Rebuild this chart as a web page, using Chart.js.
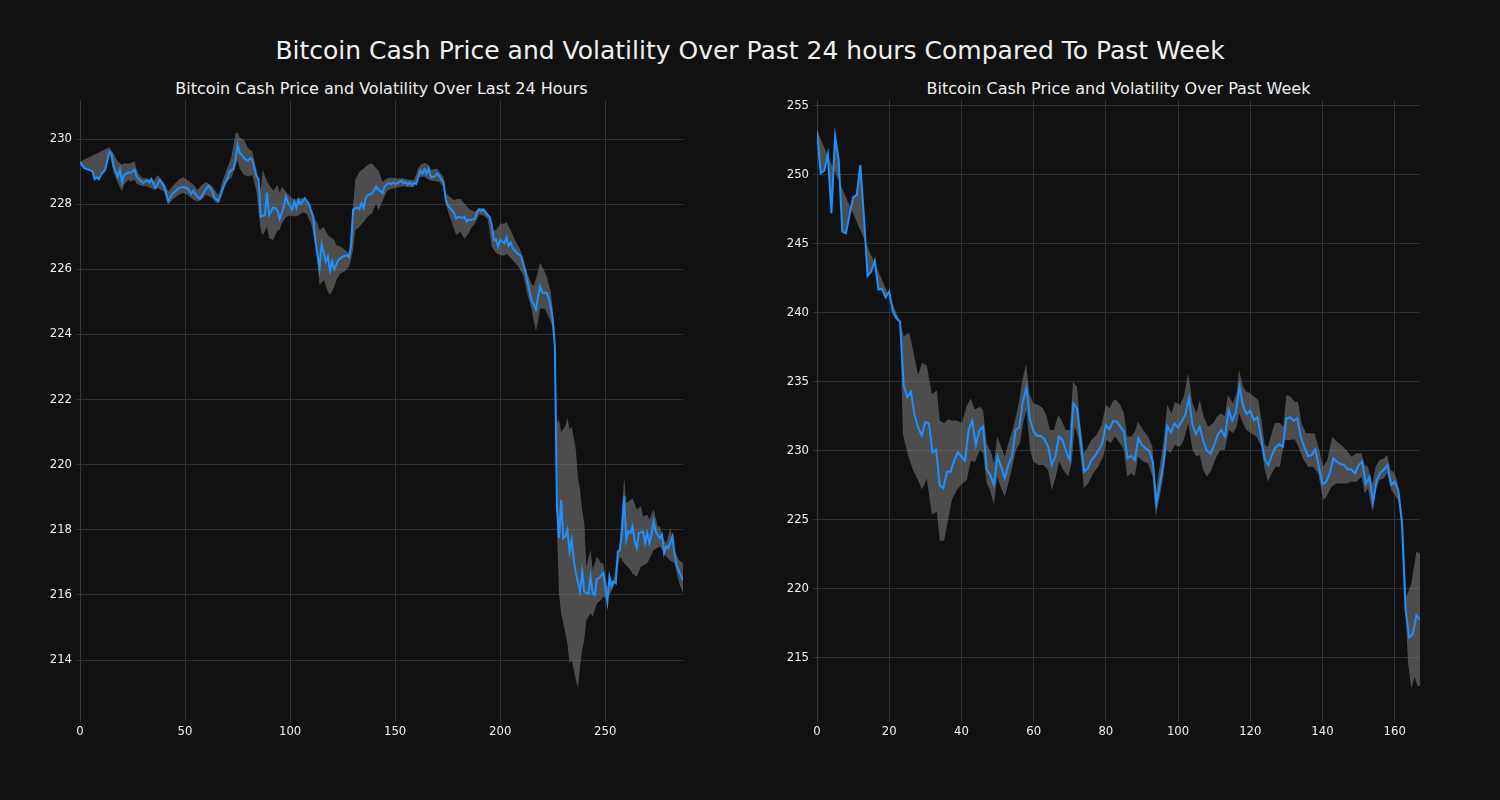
<!DOCTYPE html>
<html>
<head>
<meta charset="utf-8">
<script src="https://cdn.jsdelivr.net/npm/chart.js@4.4.1/dist/chart.umd.min.js"></script>
<style>
html,body{margin:0;padding:0;background:#111111;}
body{width:1500px;height:800px;position:relative;overflow:hidden;font-family:"DejaVu Sans",sans-serif;color:#f0f0f0;}
.t{position:absolute;white-space:nowrap;transform:translate(-50%,-50%);line-height:1;}
#main{left:750px;top:50px;font-size:25px;}
#tl{left:381.5px;top:89px;font-size:16px;}
#tr{left:1118.5px;top:89px;font-size:16px;}
.wrap{position:absolute;top:0;width:750px;height:800px;}
</style>
</head>
<body>
<div class="t" id="main">Bitcoin Cash Price and Volatility Over Past 24 hours Compared To Past Week</div>
<div class="t" id="tl">Bitcoin Cash Price and Volatility Over Last 24 Hours</div>
<div class="t" id="tr">Bitcoin Cash Price and Volatility Over Past Week</div>
<div class="wrap" style="left:0"><canvas id="cl" width="750" height="800"></canvas></div>
<div class="wrap" style="left:750px"><canvas id="cr" width="750" height="800"></canvas></div>
<script>
// ---------- Left: last 24 hours (5-minute steps) ----------
const leftPriceX = [0,2,5,6,7,8,9,10,12,14,15,16,18,19,20,21,23,24,26,27,28,30,32,33,34,36,38,40,42,44,47,49,51,53,54,55,57,59,61,63,64,66,67,69,70,71,72,73,74,75,76,77,78,80,81,82,84,85,86,88,89,90,92,93,94,95,97,98,99,101,102,103,104,105,107,109,110,111,112,114,115,117,118,119,120,121,123,124,125,127,128,129,130,132,133,134,135,136,137,139,141,142,143,144,145,147,148,149,150,151,153,154,155,156,157,158,159,160,162,163,164,165,166,167,169,170,171,172,173,174,175,177,178,179,180,182,183,184,185,186,188,189,190,191,192,193,195,196,197,198,199,200,202,203,204,205,206,208,210,211,212,213,215,216,217,218,219,220,222,223,224,225,226,227,228,229,230,231,232,233,234,235,236,238,239,240,242,243,244,245,246,247,249,250,251,252,253,254,255,256,257,258,259,260,261,262,263,264,265,266,268,269,270,271,272,273,274,276,277,278,279,280,282,283,284,285,286,287];
const leftPrice = [229.29,229.11,229.04,229.00,228.77,228.83,228.77,228.90,229.06,229.60,229.55,229.16,228.85,229.06,228.67,228.90,228.98,228.96,229.06,228.85,228.77,228.65,228.73,228.67,228.77,228.50,228.75,228.55,228.10,228.32,228.50,228.53,228.50,228.32,228.42,228.30,228.16,228.36,228.57,228.39,228.19,228.10,228.29,228.65,228.75,228.98,229.04,229.08,229.36,229.82,229.57,229.52,229.42,229.33,229.42,229.36,228.85,228.77,227.62,227.67,228.36,227.67,227.90,227.88,227.80,227.54,227.93,228.24,228.05,227.83,228.08,227.88,228.13,228.00,228.18,228.00,227.80,227.62,226.90,226.03,226.78,226.24,226.39,225.96,226.24,226.00,226.29,226.34,226.39,226.44,226.37,226.70,227.83,227.90,227.85,228.03,227.88,228.20,228.28,228.33,228.54,228.44,228.41,228.33,228.55,228.66,228.62,228.66,228.62,228.64,228.72,228.64,228.68,228.60,228.68,228.59,228.66,228.62,229.03,228.94,229.07,228.94,229.09,228.82,228.86,228.94,228.86,228.76,228.69,228.17,227.97,227.82,227.73,227.56,227.61,227.58,227.61,227.46,227.53,227.51,227.56,227.76,227.84,227.79,227.84,227.76,227.60,227.34,226.90,226.92,226.70,226.90,226.80,226.98,226.72,226.82,226.64,226.50,226.40,226.13,225.93,225.60,225.03,224.92,224.76,225.15,225.48,225.29,225.28,225.15,224.85,224.44,223.64,218.70,217.74,218.92,217.74,217.79,218.00,217.33,217.69,217.08,216.67,216.10,216.72,216.10,216.03,216.56,216.05,216.00,216.48,216.51,216.67,216.26,215.79,216.56,216.26,216.41,216.36,217.33,217.38,218.00,219.03,217.69,217.95,217.90,218.10,217.64,217.44,217.90,217.95,217.59,217.90,217.59,217.85,218.26,217.95,217.74,217.85,217.28,217.49,217.44,217.79,217.23,216.90,216.75,216.60,216.45];
const leftUpperX = [0,14,16,18,20,21,23,24,26,27,28,30,32,35,37,40,42,44,47,49,51,54,56,58,60,63,65,66,68,70,72,74,75,76,78,80,82,84,86,87,89,90,92,94,95,96,98,100,102,104,106,108,110,112,113,114,116,118,119,121,122,124,126,128,129,130,131,133,135,137,139,141,142,144,146,148,151,154,156,159,161,162,164,166,167,170,171,173,174,176,178,179,181,183,185,186,188,190,192,194,196,198,200,202,203,205,207,209,211,213,215,216,217,218,219,221,222,224,225,226,227,228,229,231,232,233,234,236,237,238,239,240,241,243,244,246,248,249,251,252,254,256,257,259,260,262,263,265,267,268,270,271,273,275,276,278,279,281,283,285,287];
const leftUpper = [229.30,229.75,229.55,229.31,229.21,229.26,229.24,229.26,229.31,229.06,228.92,228.80,228.80,228.70,228.90,228.65,228.39,228.55,228.75,228.83,228.75,228.60,228.44,228.60,228.68,228.55,228.35,228.29,228.75,229.10,229.45,230.18,230.20,230.05,229.98,229.72,229.62,229.06,228.44,229.06,228.70,228.60,228.42,228.60,228.34,228.54,228.39,228.24,228.13,228.18,228.18,228.08,227.85,227.52,227.42,227.20,227.31,227.05,227.00,226.90,226.75,226.70,226.60,226.50,227.20,227.98,228.75,229.00,229.10,229.21,229.26,229.10,229.05,228.69,228.79,228.82,228.79,228.79,228.76,228.74,229.10,229.20,229.27,229.20,229.05,229.10,229.00,228.84,228.33,228.23,228.12,228.15,228.17,228.02,227.87,227.82,227.77,227.90,227.87,227.72,227.20,227.20,227.40,227.40,227.45,227.20,226.90,226.68,226.35,225.85,225.54,225.50,225.70,225.95,226.20,225.95,225.80,225.33,224.77,224.05,221.30,221.38,221.00,221.18,221.44,221.08,221.18,220.46,219.60,219.23,218.60,218.20,216.87,217.38,216.77,217.18,216.97,216.97,216.26,216.46,216.46,217.28,217.69,219.59,218.82,218.92,218.97,218.62,218.72,218.41,218.46,218.31,218.62,218.10,218.10,217.69,217.59,218.05,217.38,217.08,216.97];
const leftLowerX = [14,16,18,20,21,23,24,26,27,28,30,32,35,37,40,42,44,47,49,51,54,56,58,60,63,65,66,68,70,72,74,75,76,78,80,82,84,86,87,89,90,92,94,95,96,98,100,102,104,106,108,110,112,113,114,116,118,119,121,122,124,126,128,129,130,131,133,135,137,139,141,142,144,146,148,151,154,156,159,161,162,164,166,167,170,171,173,174,176,178,179,181,183,185,186,188,190,192,194,196,198,200,202,203,205,207,209,211,213,215,216,217,218,219,221,222,224,225,226,227,228,229,231,232,233,234,236,237,238,239,240,241,243,244,246,248,249,251,252,254,256,257,259,260,262,263,265,267,268,270,271,273,275,276,278,279,281,283,285,287];
const leftLower = [229.57,228.96,228.65,228.39,228.60,228.75,228.70,228.75,228.62,228.60,228.55,228.55,228.45,228.50,228.39,227.98,228.14,228.29,228.34,228.29,228.14,228.09,228.14,228.29,228.19,228.03,228.03,228.40,228.72,228.80,229.15,229.36,229.10,228.90,228.85,228.90,228.39,227.20,227.05,227.31,226.95,226.90,227.20,227.20,227.40,227.60,227.65,227.62,227.65,227.75,227.70,227.40,226.80,226.29,225.52,225.67,225.31,225.21,225.46,225.67,225.88,225.93,226.08,226.30,226.60,227.20,227.31,227.46,227.62,227.72,228.03,227.80,228.10,228.40,228.47,228.51,228.55,228.53,228.52,228.80,228.84,228.84,228.74,228.73,228.70,228.69,228.53,228.02,227.61,227.25,227.05,227.15,226.94,227.10,227.25,227.41,227.68,227.65,227.55,226.70,226.50,226.44,226.42,226.48,226.35,226.20,226.05,225.80,225.20,224.77,224.40,224.10,224.40,224.80,224.80,224.70,224.40,224.20,223.60,218.00,216.05,215.44,214.82,214.51,213.90,214.00,213.40,213.13,213.80,214.31,214.62,215.23,215.44,215.33,215.74,215.85,215.95,215.85,216.00,216.26,216.87,217.18,216.97,216.90,216.77,216.65,216.56,216.87,216.90,216.97,217.10,217.38,217.45,217.49,217.30,217.18,217.05,216.97,216.40,216.05];
const leftXTicks = [0,50,100,150,200,250];
const leftYTicks = [214,216,218,220,222,224,226,228,230];

// ---------- Right: past week (hourly steps) ----------
const rightPriceX = Array.from({length:168},(_,i)=>i);
const rightPrice = [253.21,250.12,250.29,251.50,247.22,252.78,251.09,245.89,245.77,247.10,248.38,248.55,250.72,246.98,242.68,243.00,243.79,241.71,241.74,241.13,241.55,240.10,239.61,239.37,234.80,233.90,234.30,232.60,231.70,231.10,232.10,232.00,229.90,230.10,227.50,227.30,228.50,228.50,229.30,229.90,229.60,229.30,231.50,232.20,230.40,231.52,231.76,228.67,228.26,227.54,229.59,228.86,228.02,228.99,229.59,231.52,231.69,233.57,234.61,232.25,231.40,231.09,231.09,230.85,230.31,228.99,229.59,231.04,230.80,229.95,229.35,233.45,233.09,230.80,228.50,228.74,229.35,229.64,230.07,230.56,231.88,231.57,232.17,232.13,231.76,231.40,229.47,229.64,229.35,230.92,230.43,230.19,230.02,229.23,226.21,227.66,229.23,231.81,231.33,232.00,231.69,232.13,232.61,233.82,231.88,231.21,231.76,230.70,230.00,229.80,230.43,231.20,231.52,231.04,232.97,232.19,232.78,234.66,233.26,232.68,232.92,232.24,232.44,230.91,229.39,228.98,229.70,230.26,230.48,230.31,232.36,232.44,232.19,232.36,230.99,230.26,229.63,229.70,230.11,228.86,227.60,227.77,228.37,229.46,229.22,229.05,228.98,228.66,228.66,228.37,228.98,229.22,227.60,228.13,226.25,227.89,228.42,228.66,228.98,227.53,227.77,227.16,224.75,218.50,216.48,216.72,218.10,217.73];
const rightUpperX = [24,25.5,26.6,28,29.1,30.4,31.8,33.2,34,35.2,36.3,37.4,38.8,40.1,41.5,42.6,43.7,45.1,46,47,48.3,49,49.9,50.8,52,53,54.3,55.7,56.9,57.9,58.8,59.9,61.3,62.6,63.6,64.5,65.6,66.8,67.7,68.9,70,70.9,72,72.8,73.9,74.8,76,77.4,78.8,80,81.1,82,82.9,84,85,85.9,87.1,88,88.9,90.3,91.7,92.9,93.8,94.9,95.9,97,98.2,99.1,100.5,101.6,102.8,104,105.1,106,107.1,108.3,109.7,110.8,112,112.9,113.8,115.2,116.2,116.9,118,118.9,119.9,121,122.2,123.1,124,124.9,125.9,126.8,128.2,129.1,130,131.1,132.3,133.2,134.2,135.4,136.5,137.8,139,140.2,141.3,142.7,144,145.2,146.6,148,149.4,150.8,151.7,152.6,153.8,154.7,155.8,156.9,157.9,158.8,159.7,160.6,161.4,162.3,163.2,164.6,166,167];
const rightUpper = [238.30,238.60,237.30,235.50,236.40,236.20,234.10,234.40,232.20,232.00,232.30,232.20,232.20,232.00,233.30,233.80,233.00,233.21,232.97,230.56,229.83,229.11,231.04,230.43,229.59,230.56,231.64,233.21,235.14,236.35,234.18,233.45,233.33,233.09,232.49,231.52,231.52,232.61,232.25,231.52,231.52,235.02,234.66,232.25,229.83,230.19,230.80,231.16,231.88,233.33,233.09,233.65,233.70,233.33,232.73,231.04,231.04,231.40,232.13,231.52,231.04,230.31,226.93,228.86,230.56,233.33,232.73,233.57,233.33,233.94,235.63,233.45,232.73,233.70,232.49,231.76,232.00,232.49,232.73,232.49,234.06,233.45,234.18,235.87,234.66,234.30,234.18,233.94,233.69,232.24,230.43,230.31,231.28,232.00,232.05,231.76,234.06,233.94,233.57,233.57,232.00,231.28,231.28,231.28,230.19,228.86,229.34,231.03,230.67,230.43,230.07,229.58,229.82,229.82,228.98,228.86,227.65,228.86,229.34,229.46,229.70,228.62,228.49,227.89,226.68,224.75,219.43,220.39,222.69,222.57];
const rightLowerX = [0,23,23.8,25.2,26.6,28,29.1,30.4,31.8,33.2,34,35.2,36.3,37.4,38.8,40.1,41.5,42.6,43.7,45.1,46,47,47.9,49,49.9,50.8,52,53,53.9,55.1,56.2,57.1,58,59,59.9,61.3,62.6,64,65,65.9,67.1,68.2,69.6,70.5,71.4,72.3,73.3,73.9,75.1,76.5,77.9,79.3,80.2,81.3,82.5,83.9,85,85.9,87.1,88,88.9,90.3,91.7,92.9,93.8,94.9,95.9,96.8,97.9,99.1,100.5,101.6,102.8,104,105.1,106,106.9,108,109.2,110.6,111.7,112.9,114.1,115.2,116.2,116.9,118,118.9,120.3,121.7,123.1,124,124.9,125.9,127,128.2,129.5,130.9,132.3,133.5,134.6,136,137.4,138.8,140.2,141.1,142.5,143.8,145.2,146.6,148,149.4,150.8,151.7,152.6,153.8,154.7,155.8,156.9,157.9,159.1,160,160.9,161.8,162.8,163.7,164.6,165.5,166.4,167];
const rightLower = [253.20,239.40,231.20,229.70,228.60,227.90,227.20,228.00,225.40,225.60,223.50,223.50,225.00,226.50,227.20,227.60,227.90,229.30,229.20,230.07,229.83,227.66,227.17,226.09,228.14,227.42,226.69,227.66,228.62,230.07,230.56,232.00,232.97,230.07,229.23,228.99,228.99,228.62,227.17,227.90,229.23,228.62,228.14,229.11,231.76,231.04,228.86,227.29,227.66,228.38,228.86,229.59,230.80,230.56,231.04,230.56,230.07,228.14,228.38,228.14,229.59,229.23,229.11,228.14,225.24,226.69,228.14,230.07,229.83,230.43,230.31,230.80,232.00,230.07,229.59,229.70,228.62,228.13,228.62,229.58,230.07,230.07,231.52,231.28,231.76,232.73,232.00,231.52,231.28,231.03,230.31,228.62,227.77,228.37,228.86,228.86,230.79,230.79,230.84,230.19,229.46,228.86,228.86,228.37,226.44,226.68,227.41,227.65,227.65,227.65,227.77,227.77,228.13,226.92,227.29,225.59,227.16,227.89,228.01,228.37,227.16,226.80,226.44,225.23,219.43,214.59,212.78,213.62,212.90,213.02];
const rightXTicks = [0,20,40,60,80,100,120,140,160];
const rightYTicks = [215,220,225,230,235,240,245,250,255];

// ---------- styling ----------
const LINE_COLOR = '#1e90ff';
const BAND_COLOR = 'rgba(128,128,128,0.55)';
const GRID_COLOR = '#2a323e';
const SPINE_COLOR = '#2f3a4a';
const TEXT_COLOR = '#f0f0f0';
const FONT = {family:'"DejaVu Sans", sans-serif', size:11.7};

function toPts(xs, ys){ return xs.map((x,i)=>({x:x, y:ys[i]})); }
function bandShape(priceX, price, upX, up, loX, lo){
  const p = toPts(priceX, price);
  const head = p.filter(q => q.x < upX[0]);
  const tail = p.filter(q => q.x < loX[0]).reverse();
  return head.concat(toPts(upX, up), toPts(loX, lo).reverse(), tail);
}

function makeChart(id, priceX, price, upX, up, loX, lo, xMax, yMin, yMax, xTicks, yTicks, leftW, rightPad){
  return new Chart(document.getElementById(id), {
    type:'line',
    data:{datasets:[
      {data:toPts(priceX, price), borderColor:LINE_COLOR, borderWidth:2, pointRadius:0, fill:false, tension:0, order:0},
      {data:bandShape(priceX, price, upX, up, loX, lo), borderColor:'rgba(0,0,0,0)', borderWidth:0, backgroundColor:BAND_COLOR, pointRadius:0, fill:'shape', tension:0, order:1}
    ]},
    options:{
      responsive:false, animation:false, events:[],
      layout:{padding:{left:0, right:rightPad, top:100, bottom:0}},
      plugins:{legend:{display:false}, tooltip:{enabled:false}, title:{display:false}},
      scales:{
        x:{type:'linear', min:0, max:xMax,
           afterBuildTicks:s=>{s.ticks = xTicks.map(v=>({value:v}));},
           afterFit:s=>{s.height = 82;},
           grid:{color:GRID_COLOR, lineWidth:1, tickLength:4, tickColor:GRID_COLOR},
           border:{display:false},
           ticks:{color:TEXT_COLOR, font:FONT, padding:3, maxRotation:0, autoSkip:false}},
        y:{type:'linear', min:yMin, max:yMax,
           afterBuildTicks:s=>{s.ticks = yTicks.map(v=>({value:v}));},
           afterFit:s=>{s.width = leftW;},
           grid:{color:GRID_COLOR, lineWidth:1, tickLength:4, tickColor:GRID_COLOR},
           border:{display:true, color:SPINE_COLOR, width:1},
           ticks:{color:TEXT_COLOR, font:FONT, padding:4, autoSkip:false}}
      }
    }
  });
}

makeChart('cl', leftPriceX, leftPrice, leftUpperX, leftUpper, leftLowerX, leftLower, 287, 212.22, 231.2, leftXTicks, leftYTicks, 80, 67);
makeChart('cr', rightPriceX, rightPrice, rightUpperX, rightUpper, rightLowerX, rightLower, 167, 210.65, 255.43, rightXTicks, rightYTicks, 67, 80);
</script>
</body>
</html>
